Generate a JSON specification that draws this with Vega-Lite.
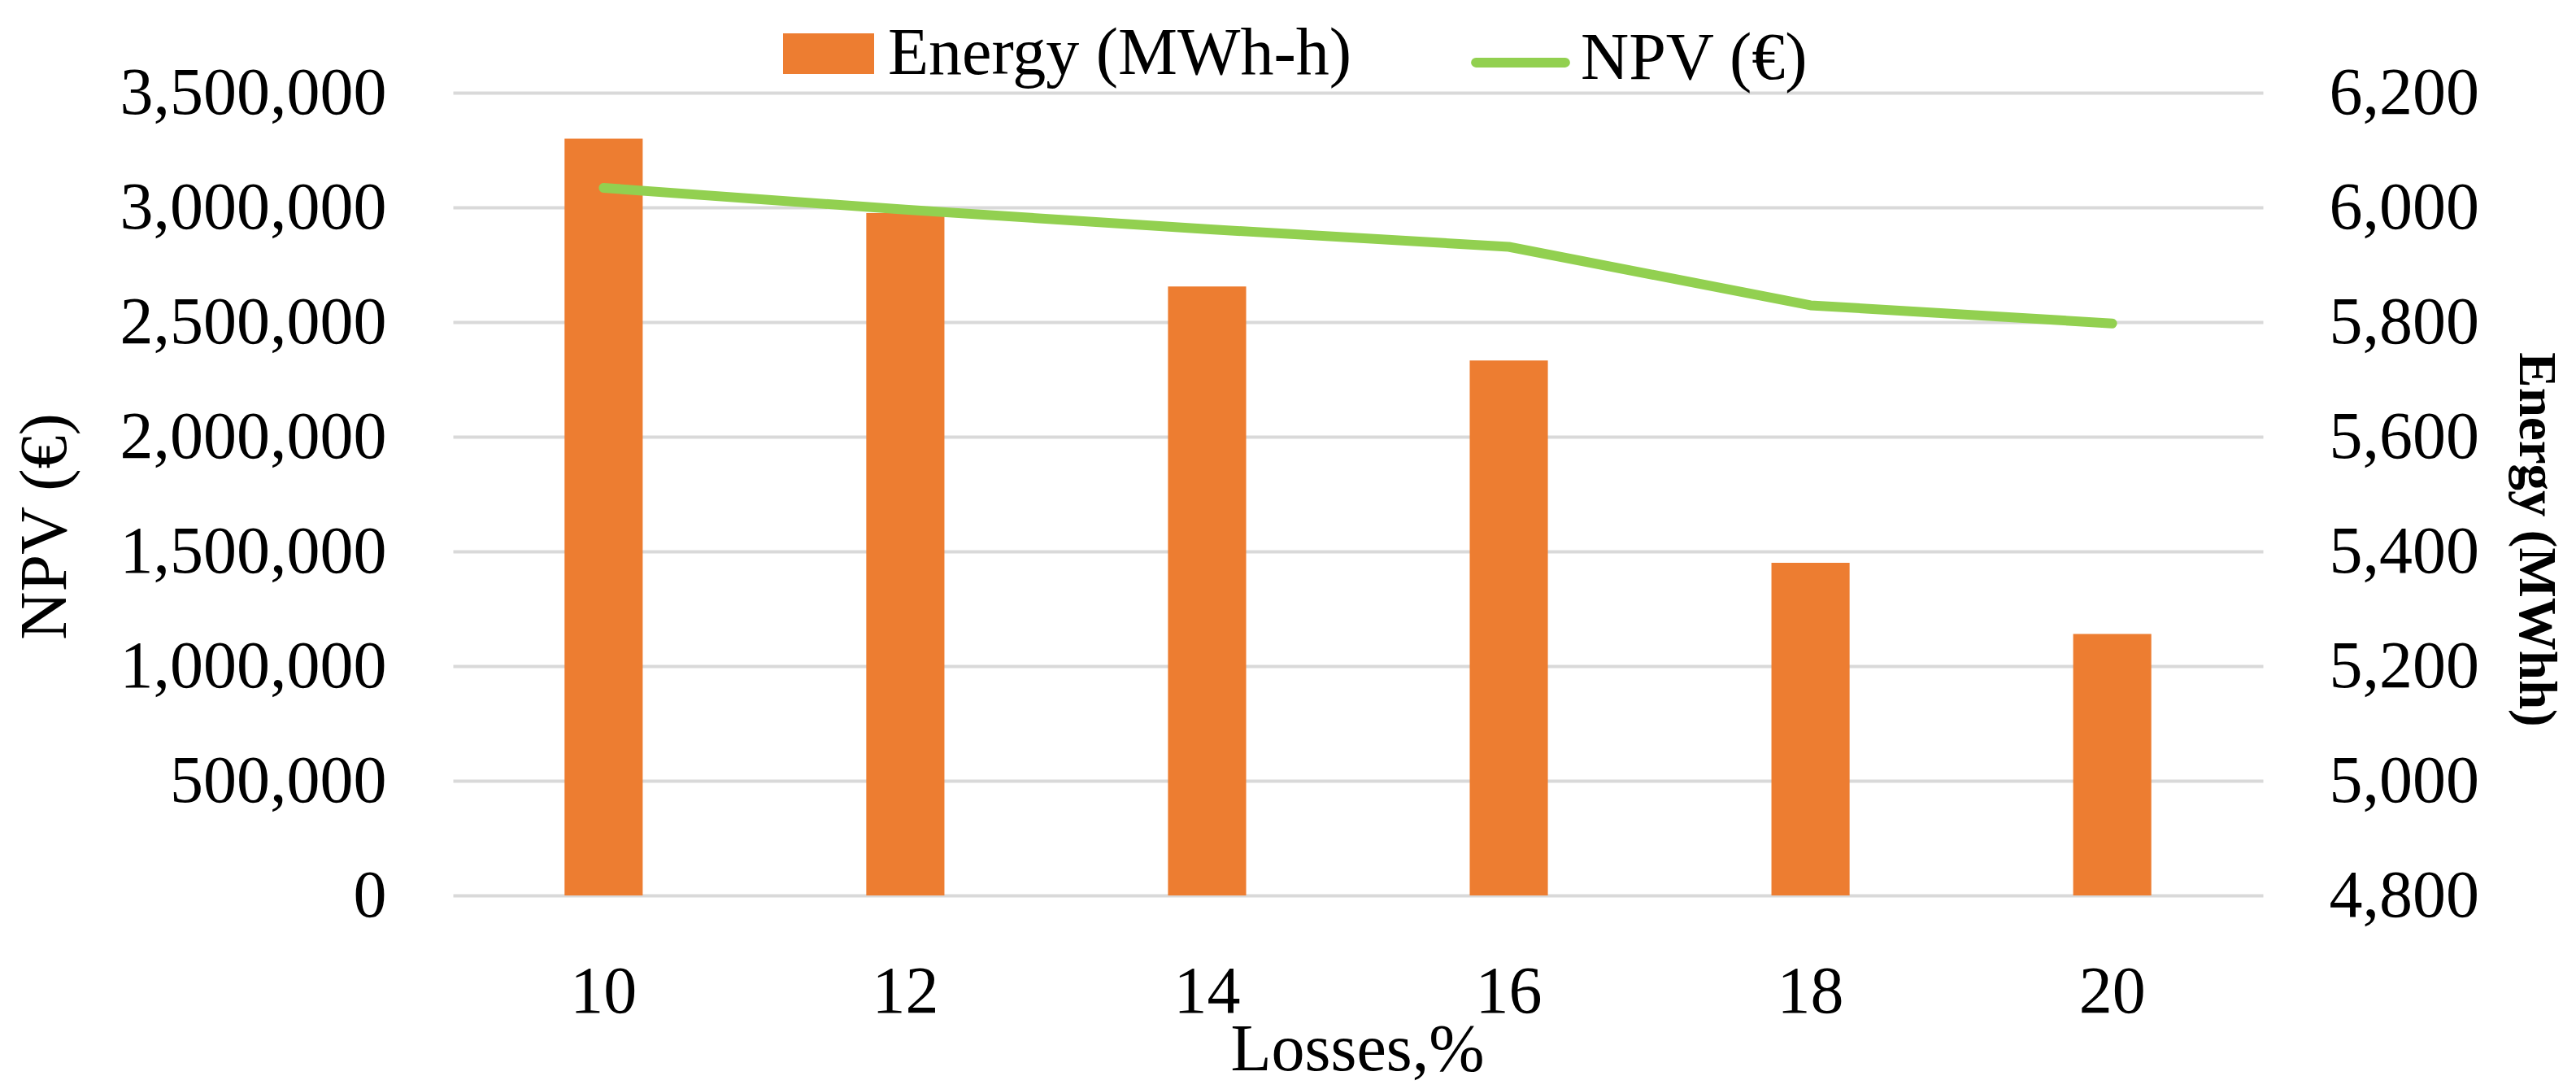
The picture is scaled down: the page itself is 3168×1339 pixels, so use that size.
{
  "$schema": "https://vega.github.io/schema/vega-lite/v6.json",
  "width": 2226,
  "height": 987,
  "autosize": {"type": "none"},
  "padding": {"left": 557, "top": 114, "right": 385, "bottom": 238},
  "background": "white",
  "config": {"view": {"stroke": null}, "font": "Liberation Serif"},
  "data": {"values": [
    {"loss": 10, "energy": 6120, "npv": 3085000},
    {"loss": 12, "energy": 5990, "npv": 2990000},
    {"loss": 14, "energy": 5862, "npv": 2905000},
    {"loss": 16, "energy": 5733, "npv": 2828000},
    {"loss": 18, "energy": 5380, "npv": 2573000},
    {"loss": 20, "energy": 5256, "npv": 2494000}
  ]},
  "encoding": {
    "x": {
      "field": "loss", "type": "ordinal",
      "scale": {"paddingInner": 0.741, "paddingOuter": 0.37},
      "axis": {
        "title": "Losses,%", "labelAngle": 0, "labelFontSize": 82, "labelFont": "Liberation Serif",
        "labelColor": "#000", "labelBaseline": "alphabetic", "labelPadding": 143, "labelLimit": 1000,
        "ticks": false, "domain": false, "grid": false,
        "titleFontSize": 82, "titleFont": "Liberation Serif", "titleFontWeight": "normal", "titleColor": "#000",
        "titleBaseline": "alphabetic", "titleY": 214, "titleX": 1112, "titleAlign": "center"
      }
    }
  },
  "layer": [
    {
      "mark": {"type": "bar", "color": "#ED7D31"},
      "encoding": {
        "y": {
          "field": "energy", "type": "quantitative",
          "scale": {"domain": [4800, 6200], "zero": false, "nice": false},
          "axis": {
            "orient": "right", "title": "Energy (MWhh)",
            "values": [4800, 5000, 5200, 5400, 5600, 5800, 6000, 6200], "format": ",d",
            "grid": false, "ticks": false, "domain": false,
            "labelFontSize": 82, "labelFont": "Liberation Serif", "labelPadding": 81, "labelColor": "#000", "labelLimit": 1000,
            "titleFontSize": 65, "titleFont": "Liberation Serif", "titleFontWeight": "bold", "titleColor": "#000",
            "titleAngle": 90, "titleBaseline": "alphabetic", "titleAlign": "center", "titleX": 315, "titleY": 549
          }
        },
        "y2": {"datum": 4800},
        "fill": {
          "datum": "Energy (MWh-h)",
          "scale": {"range": ["#ED7D31"]},
          "legend": {
            "orient": "none", "legendX": 406, "legendY": -104, "title": null, "padding": 0,
            "symbolType": "M-1,-0.446L1,-0.446L1,0.446L-1,0.446Z", "symbolSize": 12544, "symbolStrokeWidth": 0,
            "labelFontSize": 82, "labelFont": "Liberation Serif", "labelColor": "#000", "labelOffset": 17, "labelLimit": 1000
          }
        }
      }
    },
    {
      "mark": {"type": "line", "strokeWidth": 12, "strokeCap": "round", "strokeJoin": "round"},
      "encoding": {
        "y": {
          "field": "npv", "type": "quantitative",
          "scale": {"domain": [0, 3500000], "nice": false},
          "axis": {
            "orient": "left", "title": "NPV (€)",
            "values": [0, 500000, 1000000, 1500000, 2000000, 2500000, 3000000, 3500000], "format": ",d",
            "grid": true, "gridColor": "#d9d9d9", "gridWidth": 4, "ticks": false, "domain": false,
            "labelFontSize": 82, "labelFont": "Liberation Serif", "labelPadding": 82, "labelColor": "#000", "labelLimit": 1000,
            "titleFontSize": 82, "titleFont": "Liberation Serif", "titleFontWeight": "normal", "titleColor": "#000",
            "titleAngle": 270, "titleBaseline": "alphabetic", "titleAlign": "center", "titleX": -477, "titleY": 533
          }
        },
        "stroke": {
          "datum": "NPV (€)",
          "scale": {"range": ["#92D050"]},
          "legend": {
            "orient": "none", "legendX": 1246, "legendY": -109, "title": null, "padding": 0,
            "symbolType": "M-0.9,0.08L0.9,0.08", "symbolSize": 14884, "symbolStrokeWidth": 12,
            "symbolFillColor": "transparent",
            "labelFontSize": 82, "labelFont": "Liberation Serif", "labelColor": "#000", "labelOffset": 7, "labelLimit": 1000,
            "encode": {"symbols": {"update": {"strokeCap": {"value": "round"}}}}
          }
        }
      }
    }
  ],
  "resolve": {"scale": {"y": "independent"}}
}
